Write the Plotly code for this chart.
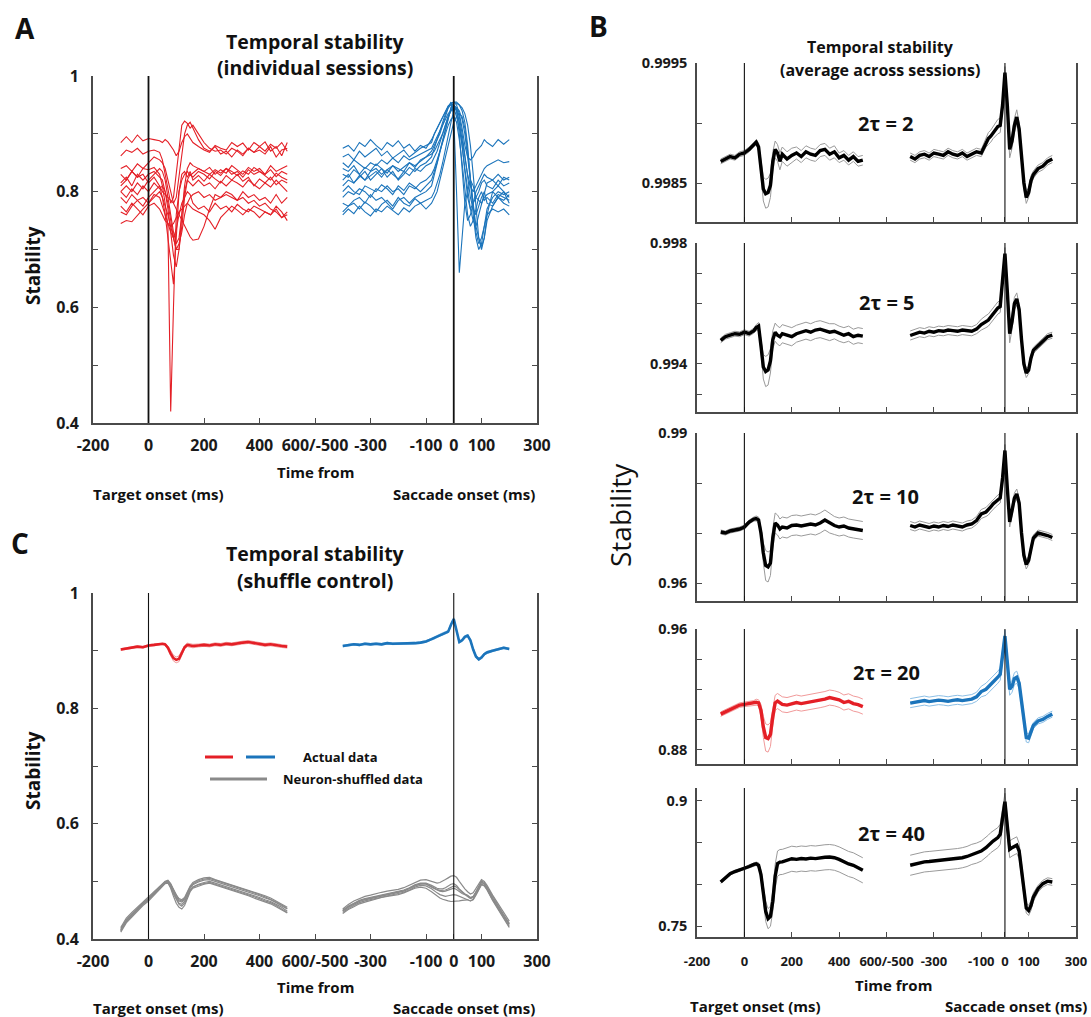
import plotly.graph_objects as go

W, H = 1091, 1017
FONT = "Open Sans"

# ---------------- time grids (ms) ----------------
T_TGT = [-100, -80, -60, -40, -20, 0, 20, 40,
         50, 60, 70, 80, 90, 100, 110, 120, 130, 140, 150, 160,
         180, 200, 220, 240, 260, 280, 300, 320, 340, 360, 380, 400, 420, 440, 460, 480, 500]
T_SAC = [-400, -380, -360, -340, -320, -300, -280, -260, -240, -220, -200, -180, -160, -140, -120, -100, -80,
         -70, -60, -50, -40, -30, -20, -10, 0, 10, 20, 30, 40, 50, 60, 70, 80, 90, 100, 110, 120,
         140, 160, 180, 200]
SAC_OFFSET = 1100  # saccade-aligned 0 sits at 1100 on the broken axis (600 == -500)

X_TICKVALS = [-200, 0, 200, 400, 600, 800, 1000, 1100, 1200, 1400]
X_TICKTEXT = ["-200", "0", "200", "400", "600/-500", "-300", "-100", "0", "100", "300"]

# ---------------- Panel A: individual sessions ----------------
A_RED = [
    [0.885, 0.895, 0.885, 0.898, 0.888, 0.892, 0.890, 0.888,
     0.885, 0.890, 0.886, 0.880, 0.872, 0.862, 0.870, 0.885, 0.895, 0.900, 0.892, 0.885,
     0.878, 0.872, 0.868, 0.880, 0.875, 0.872, 0.885, 0.878, 0.884, 0.872, 0.885, 0.878, 0.886, 0.870, 0.878, 0.862, 0.885],
    [0.862, 0.872, 0.868, 0.875, 0.865, 0.870, 0.872, 0.868,
     0.855, 0.830, 0.800, 0.780, 0.790, 0.830, 0.880, 0.915, 0.922, 0.918, 0.910, 0.915,
     0.900, 0.885, 0.875, 0.870, 0.872, 0.865, 0.875, 0.870, 0.862, 0.875, 0.868, 0.872, 0.865, 0.878, 0.860, 0.872, 0.875],
    [0.840, 0.845, 0.835, 0.848, 0.840, 0.838, 0.842, 0.830,
     0.810, 0.780, 0.740, 0.420, 0.600, 0.760, 0.800, 0.820, 0.830, 0.835, 0.828, 0.832,
     0.840, 0.835, 0.830, 0.838, 0.832, 0.840, 0.835, 0.828, 0.836, 0.830, 0.842, 0.835, 0.830, 0.838, 0.826, 0.835, 0.830],
    [0.830, 0.820, 0.835, 0.825, 0.830, 0.815, 0.825, 0.810,
     0.790, 0.760, 0.720, 0.680, 0.640, 0.720, 0.800, 0.830, 0.835, 0.825, 0.835, 0.820,
     0.828, 0.818, 0.830, 0.822, 0.815, 0.828, 0.820, 0.830, 0.818, 0.825, 0.810, 0.822, 0.815, 0.825, 0.812, 0.820, 0.815],
    [0.815, 0.825, 0.810, 0.830, 0.820, 0.830, 0.835, 0.825,
     0.820, 0.800, 0.770, 0.730, 0.690, 0.670, 0.700, 0.760, 0.810, 0.840, 0.850, 0.845,
     0.840, 0.835, 0.842, 0.830, 0.838, 0.832, 0.845, 0.838, 0.830, 0.842, 0.835, 0.840, 0.830, 0.845, 0.835, 0.840, 0.845],
    [0.800, 0.790, 0.805, 0.795, 0.810, 0.800, 0.815, 0.805,
     0.810, 0.800, 0.780, 0.750, 0.720, 0.700, 0.700, 0.740, 0.790, 0.820, 0.815, 0.810,
     0.820, 0.810, 0.815, 0.805, 0.818, 0.810, 0.820, 0.815, 0.808, 0.820, 0.812, 0.805, 0.815, 0.808, 0.820, 0.810, 0.800],
    [0.790, 0.780, 0.795, 0.785, 0.775, 0.790, 0.800, 0.810,
     0.800, 0.795, 0.790, 0.785, 0.780, 0.770, 0.760, 0.750, 0.740, 0.730, 0.722, 0.716,
     0.718, 0.740, 0.770, 0.795, 0.790, 0.800, 0.795, 0.785, 0.800, 0.790, 0.795, 0.785, 0.790, 0.780, 0.795, 0.780, 0.790],
    [0.775, 0.765, 0.780, 0.770, 0.760, 0.775, 0.780, 0.770,
     0.760, 0.750, 0.745, 0.740, 0.745, 0.755, 0.765, 0.770, 0.775, 0.780, 0.775, 0.770,
     0.765, 0.760, 0.750, 0.735, 0.755, 0.765, 0.775, 0.768, 0.760, 0.770, 0.765, 0.755, 0.765, 0.760, 0.770, 0.755, 0.765],
    [0.745, 0.750, 0.748, 0.760, 0.770, 0.780, 0.790, 0.800,
     0.790, 0.775, 0.760, 0.740, 0.720, 0.700, 0.710, 0.730, 0.760, 0.780, 0.790, 0.795,
     0.800, 0.790, 0.795, 0.785, 0.790, 0.795, 0.790, 0.785, 0.790, 0.780, 0.785, 0.775, 0.780, 0.770, 0.765, 0.755, 0.760],
    [0.810, 0.820, 0.835, 0.825, 0.840, 0.850, 0.860, 0.855,
     0.850, 0.840, 0.820, 0.800, 0.780, 0.790, 0.830, 0.870, 0.900, 0.915, 0.920, 0.910,
     0.890, 0.875, 0.870, 0.878, 0.865, 0.870, 0.860, 0.872, 0.865, 0.875, 0.868, 0.878, 0.870, 0.882, 0.875, 0.885, 0.870],
    [0.800, 0.810, 0.800, 0.815, 0.805, 0.820, 0.830, 0.840,
     0.835, 0.820, 0.790, 0.760, 0.730, 0.710, 0.720, 0.760, 0.800, 0.820, 0.830, 0.825,
     0.835, 0.830, 0.822, 0.835, 0.828, 0.840, 0.830, 0.835, 0.825, 0.838, 0.830, 0.835, 0.828, 0.820, 0.832, 0.825, 0.820],
    [0.765, 0.760, 0.775, 0.785, 0.790, 0.780, 0.795, 0.790,
     0.775, 0.760, 0.745, 0.730, 0.720, 0.735, 0.760, 0.780, 0.790, 0.800, 0.795, 0.780,
     0.770, 0.775, 0.765, 0.780, 0.770, 0.775, 0.765, 0.778, 0.770, 0.765, 0.775, 0.770, 0.765, 0.760, 0.775, 0.765, 0.750],
]

A_BLUE = [
    [0.875, 0.880, 0.870, 0.885, 0.878, 0.890, 0.880, 0.872, 0.885, 0.878, 0.888, 0.875, 0.882, 0.870, 0.880, 0.875, 0.890,
     0.900, 0.910, 0.920, 0.930, 0.940, 0.948, 0.953, 0.955, 0.950, 0.935, 0.910, 0.880, 0.860, 0.855, 0.860, 0.870, 0.875, 0.880, 0.890, 0.885,
     0.878, 0.890, 0.882, 0.890],
    [0.860, 0.865, 0.855, 0.870, 0.860, 0.868, 0.875, 0.862, 0.870, 0.858, 0.865, 0.872, 0.860, 0.868, 0.875, 0.880, 0.885,
     0.900, 0.910, 0.920, 0.930, 0.940, 0.948, 0.952, 0.955, 0.953, 0.950, 0.945, 0.935, 0.915, 0.880, 0.830, 0.770, 0.720, 0.700, 0.720, 0.760,
     0.800, 0.810, 0.800, 0.790],
    [0.840, 0.835, 0.845, 0.830, 0.842, 0.836, 0.848, 0.840, 0.832, 0.845, 0.840, 0.835, 0.850, 0.842, 0.855, 0.860, 0.870,
     0.880, 0.890, 0.900, 0.915, 0.930, 0.945, 0.955, 0.930, 0.800, 0.660, 0.720, 0.780, 0.800, 0.820, 0.810, 0.790, 0.800, 0.815, 0.820, 0.810,
     0.805, 0.820, 0.810, 0.815],
    [0.820, 0.830, 0.815, 0.825, 0.835, 0.820, 0.830, 0.840, 0.825, 0.835, 0.820, 0.830, 0.842, 0.835, 0.845, 0.850, 0.860,
     0.875, 0.890, 0.905, 0.920, 0.935, 0.945, 0.950, 0.945, 0.930, 0.910, 0.880, 0.840, 0.800, 0.770, 0.750, 0.740, 0.760, 0.780, 0.800, 0.815,
     0.820, 0.810, 0.825, 0.820],
    [0.850, 0.842, 0.855, 0.848, 0.840, 0.850, 0.845, 0.855, 0.848, 0.858, 0.850, 0.862, 0.855, 0.860, 0.865, 0.870, 0.875,
     0.885, 0.895, 0.905, 0.915, 0.925, 0.935, 0.940, 0.945, 0.940, 0.920, 0.890, 0.860, 0.830, 0.810, 0.800, 0.810, 0.820, 0.830, 0.840, 0.845,
     0.850, 0.855, 0.850, 0.852],
    [0.760, 0.770, 0.762, 0.775, 0.765, 0.758, 0.770, 0.765, 0.775, 0.768, 0.760, 0.772, 0.765, 0.775, 0.780, 0.770, 0.780,
     0.790, 0.800, 0.820, 0.840, 0.860, 0.880, 0.900, 0.920, 0.930, 0.935, 0.930, 0.910, 0.870, 0.820, 0.770, 0.730, 0.710, 0.720, 0.740, 0.760,
     0.770, 0.765, 0.770, 0.760],
    [0.780, 0.775, 0.785, 0.790, 0.780, 0.795, 0.785, 0.790, 0.780, 0.770, 0.785, 0.790, 0.780, 0.790, 0.795, 0.800, 0.810,
     0.830, 0.850, 0.870, 0.890, 0.910, 0.930, 0.945, 0.950, 0.940, 0.900, 0.840, 0.780, 0.750, 0.760, 0.780, 0.790, 0.785, 0.780, 0.790, 0.795,
     0.800, 0.790, 0.785, 0.795],
    [0.800, 0.810, 0.800, 0.795, 0.810, 0.805, 0.800, 0.812, 0.805, 0.795, 0.810, 0.802, 0.815, 0.808, 0.800, 0.810, 0.820,
     0.835, 0.850, 0.870, 0.890, 0.910, 0.930, 0.945, 0.955, 0.955, 0.950, 0.940, 0.920, 0.880, 0.820, 0.760, 0.720, 0.700, 0.710, 0.740, 0.770,
     0.790, 0.800, 0.795, 0.800],
    [0.830, 0.825, 0.838, 0.830, 0.820, 0.828, 0.835, 0.825, 0.838, 0.830, 0.822, 0.835, 0.828, 0.840, 0.835, 0.845, 0.850,
     0.860, 0.870, 0.885, 0.900, 0.915, 0.930, 0.940, 0.950, 0.945, 0.930, 0.900, 0.860, 0.820, 0.790, 0.770, 0.760, 0.775, 0.790, 0.800, 0.780,
     0.775, 0.790, 0.800, 0.780],
    [0.765, 0.775, 0.780, 0.770, 0.782, 0.775, 0.765, 0.778, 0.785, 0.775, 0.790, 0.780, 0.775, 0.788, 0.780, 0.785, 0.790,
     0.800, 0.815, 0.830, 0.850, 0.875, 0.900, 0.920, 0.940, 0.945, 0.940, 0.925, 0.900, 0.860, 0.810, 0.770, 0.740, 0.720, 0.705, 0.720, 0.750,
     0.775, 0.790, 0.780, 0.775],
    [0.810, 0.820, 0.815, 0.828, 0.820, 0.835, 0.840, 0.830, 0.838, 0.845, 0.835, 0.842, 0.850, 0.845, 0.852, 0.860, 0.865,
     0.870, 0.880, 0.890, 0.900, 0.915, 0.930, 0.940, 0.948, 0.942, 0.920, 0.880, 0.830, 0.790, 0.770, 0.780, 0.800, 0.810, 0.820, 0.830, 0.825,
     0.820, 0.830, 0.820, 0.825],
    [0.790, 0.800, 0.795, 0.805, 0.800, 0.790, 0.805, 0.800, 0.810, 0.800, 0.805, 0.795, 0.810, 0.805, 0.815, 0.820, 0.830,
     0.840, 0.855, 0.870, 0.885, 0.900, 0.915, 0.925, 0.930, 0.920, 0.890, 0.850, 0.800, 0.760, 0.740, 0.750, 0.770, 0.790, 0.800, 0.785, 0.790,
     0.780, 0.795, 0.790, 0.785],
]

# ---------------- Panel C: shuffle control ----------------
C_RED_MEAN = [0.902, 0.904, 0.905, 0.907, 0.906, 0.909, 0.910, 0.911,
              0.912, 0.911, 0.905, 0.895, 0.887, 0.884, 0.886, 0.896, 0.906, 0.910, 0.909, 0.908,
              0.909, 0.910, 0.909, 0.911, 0.910, 0.912, 0.911, 0.913, 0.914, 0.915, 0.913, 0.912, 0.910, 0.911, 0.909, 0.908, 0.907]
C_RED_SEM = [0.0015, 0.0015, 0.0015, 0.0015, 0.0015, 0.0015, 0.0015, 0.0015,
             0.0015, 0.002, 0.003, 0.004, 0.005, 0.005, 0.005, 0.004, 0.003, 0.003, 0.003, 0.003,
             0.0025, 0.0025, 0.0025, 0.0025, 0.0025, 0.0025, 0.0025, 0.0025, 0.0025, 0.0025, 0.0025, 0.0025, 0.0025, 0.0025, 0.0025, 0.0025, 0.0025]
C_BLUE_MEAN = [0.908, 0.910, 0.911, 0.910, 0.912, 0.911, 0.912, 0.911, 0.913, 0.912, 0.912, 0.913, 0.912, 0.913, 0.914, 0.916, 0.920,
               0.922, 0.925, 0.927, 0.929, 0.931, 0.933, 0.945, 0.955, 0.935, 0.915, 0.918, 0.924, 0.926, 0.918, 0.902, 0.890, 0.885, 0.888, 0.894, 0.897,
               0.900, 0.902, 0.905, 0.903]
C_BLUE_SEM = [0.0015, 0.0015, 0.0015, 0.0015, 0.0015, 0.0015, 0.0015, 0.0015, 0.0015, 0.0015, 0.0015, 0.0015, 0.0015, 0.0015, 0.0015, 0.0015, 0.0015,
              0.002, 0.002, 0.002, 0.002, 0.002, 0.002, 0.002, 0.002, 0.002, 0.002, 0.002, 0.002, 0.002, 0.002, 0.002, 0.002, 0.002, 0.002, 0.002, 0.002,
              0.0015, 0.0015, 0.0015, 0.0015]
C_GRAY_TGT = [
    [0.415, 0.430, 0.440, 0.450, 0.460, 0.468, 0.478, 0.488,
     0.493, 0.498, 0.499, 0.492, 0.480, 0.470, 0.462, 0.460, 0.465, 0.475, 0.485, 0.490,
     0.495, 0.498, 0.500, 0.497, 0.494, 0.490, 0.487, 0.485, 0.482, 0.478, 0.475, 0.472, 0.468, 0.465, 0.460, 0.455, 0.448],
    [0.420, 0.436, 0.446, 0.455, 0.463, 0.472, 0.482, 0.490,
     0.495, 0.500, 0.502, 0.496, 0.486, 0.476, 0.470, 0.468, 0.472, 0.482, 0.492, 0.498,
     0.503, 0.506, 0.507, 0.503, 0.500, 0.497, 0.494, 0.491, 0.488, 0.485, 0.482, 0.479, 0.475, 0.471, 0.466, 0.461, 0.455],
    [0.412, 0.428, 0.438, 0.448, 0.458, 0.466, 0.476, 0.486,
     0.491, 0.496, 0.497, 0.488, 0.474, 0.462, 0.455, 0.452, 0.458, 0.470, 0.482, 0.488,
     0.492, 0.495, 0.497, 0.494, 0.491, 0.487, 0.484, 0.481, 0.478, 0.475, 0.471, 0.468, 0.464, 0.461, 0.456, 0.451, 0.445],
    [0.418, 0.433, 0.443, 0.452, 0.462, 0.470, 0.480, 0.489,
     0.494, 0.499, 0.500, 0.494, 0.483, 0.473, 0.466, 0.464, 0.468, 0.478, 0.488, 0.494,
     0.499, 0.502, 0.503, 0.500, 0.497, 0.493, 0.490, 0.488, 0.485, 0.481, 0.478, 0.475, 0.471, 0.468, 0.463, 0.458, 0.452],
    [0.414, 0.431, 0.441, 0.451, 0.461, 0.469, 0.479, 0.487,
     0.492, 0.497, 0.498, 0.490, 0.478, 0.468, 0.460, 0.457, 0.462, 0.473, 0.484, 0.490,
     0.494, 0.496, 0.498, 0.495, 0.492, 0.488, 0.485, 0.483, 0.480, 0.477, 0.474, 0.470, 0.466, 0.463, 0.458, 0.452, 0.446],
    [0.416, 0.432, 0.442, 0.452, 0.462, 0.470, 0.479, 0.488,
     0.494, 0.499, 0.501, 0.495, 0.485, 0.475, 0.468, 0.466, 0.470, 0.480, 0.490, 0.496,
     0.501, 0.504, 0.505, 0.502, 0.499, 0.495, 0.492, 0.489, 0.486, 0.483, 0.480, 0.477, 0.473, 0.469, 0.464, 0.459, 0.453],
]
C_GRAY_SAC = [
    [0.448, 0.455, 0.460, 0.465, 0.468, 0.470, 0.473, 0.475, 0.477, 0.478, 0.480, 0.483, 0.487, 0.492, 0.495, 0.495, 0.490,
     0.487, 0.485, 0.483, 0.482, 0.483, 0.485, 0.487, 0.488, 0.486, 0.482, 0.479, 0.477, 0.474, 0.470, 0.472, 0.480, 0.490, 0.498, 0.495, 0.488,
     0.470, 0.455, 0.440, 0.425],
    [0.452, 0.460, 0.466, 0.470, 0.474, 0.476, 0.479, 0.481, 0.483, 0.484, 0.486, 0.489, 0.493, 0.498, 0.502, 0.503, 0.500,
     0.498, 0.497, 0.498, 0.500, 0.503, 0.506, 0.509, 0.510, 0.507, 0.500, 0.493, 0.487, 0.482, 0.478, 0.480, 0.488, 0.497, 0.503, 0.500, 0.493,
     0.476, 0.461, 0.446, 0.431],
    [0.444, 0.451, 0.456, 0.461, 0.464, 0.467, 0.470, 0.472, 0.474, 0.475, 0.477, 0.480, 0.484, 0.488, 0.490, 0.488, 0.482,
     0.478, 0.474, 0.471, 0.469, 0.467, 0.466, 0.465, 0.465, 0.465, 0.466, 0.467, 0.468, 0.468, 0.466, 0.468, 0.476, 0.486, 0.494, 0.492, 0.485,
     0.467, 0.452, 0.437, 0.420],
    [0.450, 0.457, 0.462, 0.467, 0.470, 0.472, 0.475, 0.477, 0.479, 0.480, 0.482, 0.485, 0.489, 0.494, 0.497, 0.497, 0.493,
     0.490, 0.488, 0.487, 0.487, 0.489, 0.492, 0.495, 0.496, 0.493, 0.487, 0.482, 0.478, 0.475, 0.471, 0.473, 0.482, 0.493, 0.501, 0.498, 0.490,
     0.472, 0.457, 0.442, 0.427],
    [0.446, 0.453, 0.458, 0.463, 0.466, 0.468, 0.471, 0.473, 0.475, 0.476, 0.478, 0.481, 0.485, 0.490, 0.493, 0.492, 0.487,
     0.483, 0.480, 0.477, 0.475, 0.474, 0.475, 0.476, 0.477, 0.476, 0.474, 0.472, 0.471, 0.469, 0.466, 0.469, 0.477, 0.487, 0.495, 0.493, 0.486,
     0.468, 0.453, 0.438, 0.422],
    [0.449, 0.456, 0.461, 0.466, 0.469, 0.471, 0.474, 0.476, 0.478, 0.479, 0.481, 0.484, 0.488, 0.493, 0.496, 0.496, 0.491,
     0.488, 0.486, 0.484, 0.484, 0.485, 0.487, 0.490, 0.492, 0.490, 0.485, 0.481, 0.478, 0.476, 0.472, 0.474, 0.481, 0.491, 0.499, 0.496, 0.489,
     0.471, 0.456, 0.441, 0.426],
]

# ---------------- Panel B: averages across sessions, one per window 2τ ----------------
B_LABELS = ["2τ = 2", "2τ = 5", "2τ = 10", "2τ = 20", "2τ = 40"]
B_RED_MEAN = [
    [0.99868, 0.99870, 0.99872, 0.99871, 0.99874, 0.99875, 0.99878, 0.99882,
     0.99884, 0.99880, 0.99862, 0.99845, 0.99841, 0.99842, 0.99848, 0.99868, 0.99878, 0.99875, 0.99868, 0.99874,
     0.99870, 0.99873, 0.99875, 0.99872, 0.99876, 0.99874, 0.99873, 0.99877, 0.99878, 0.99874, 0.99876, 0.99871, 0.99873, 0.99869, 0.99872, 0.99868, 0.99869],
    [0.99478, 0.99490, 0.99495, 0.99500, 0.99498, 0.99505, 0.99500, 0.99510,
     0.99520, 0.99525, 0.99460, 0.99390, 0.99375, 0.99380, 0.99410, 0.99480, 0.99505, 0.99495, 0.99490, 0.99500,
     0.99495, 0.99490, 0.99500, 0.99505, 0.99510, 0.99505, 0.99512, 0.99515, 0.99510, 0.99505, 0.99508, 0.99500, 0.99495, 0.99500, 0.99490, 0.99495, 0.99492],
    [0.9702, 0.9700, 0.9704, 0.9706, 0.9708, 0.9712, 0.9722, 0.9728,
     0.9729, 0.9726, 0.9700, 0.9660, 0.9635, 0.9632, 0.9640, 0.9690, 0.9720, 0.9716, 0.9708, 0.9712,
     0.9710, 0.9715, 0.9716, 0.9714, 0.9716, 0.9718, 0.9716, 0.9720, 0.9726, 0.9720, 0.9715, 0.9712, 0.9714, 0.9710, 0.9708, 0.9706, 0.9705],
    [0.9035, 0.9050, 0.9065, 0.9080, 0.9095, 0.9100, 0.9105, 0.9110,
     0.9114, 0.9110, 0.9060, 0.8950, 0.8880, 0.8873, 0.8900, 0.9020, 0.9110, 0.9122, 0.9110, 0.9100,
     0.9095, 0.9105, 0.9112, 0.9105, 0.9110, 0.9118, 0.9122, 0.9128, 0.9135, 0.9145, 0.9140, 0.9130, 0.9112, 0.9120, 0.9105, 0.9098, 0.9085],
    [0.8029, 0.8080, 0.8130, 0.8155, 0.8175, 0.8189, 0.8215, 0.8240,
     0.8248, 0.8230, 0.8120, 0.7900, 0.7680, 0.7592, 0.7620, 0.7800, 0.8100, 0.8250, 0.8268, 0.8270,
     0.8285, 0.8308, 0.8300, 0.8310, 0.8305, 0.8315, 0.8310, 0.8320, 0.8325, 0.8328, 0.8320, 0.8300, 0.8270, 0.8245, 0.8229, 0.8200, 0.8169],
]
B_RED_SEM = [
    [0.00002, 0.00002, 0.00002, 0.00002, 0.00002, 0.00002, 0.00002, 0.00002,
     0.00002, 0.00003, 0.00006, 0.00010, 0.00012, 0.00012, 0.00010, 0.00008, 0.00007, 0.00007, 0.00007, 0.00006,
     0.00006, 0.00006, 0.00005, 0.00005, 0.00005, 0.00005, 0.00005, 0.00005, 0.00005, 0.00005, 0.00005, 0.00004, 0.00004, 0.00004, 0.00004, 0.00004, 0.00004],
    [0.00008, 0.00008, 0.00008, 0.00008, 0.00008, 0.00008, 0.00008, 0.00008,
     0.00010, 0.00012, 0.00020, 0.00040, 0.00050, 0.00050, 0.00040, 0.00030, 0.00030, 0.00030, 0.00030, 0.00030,
     0.00030, 0.00030, 0.00028, 0.00028, 0.00028, 0.00028, 0.00028, 0.00028, 0.00028, 0.00028, 0.00025, 0.00025, 0.00025, 0.00025, 0.00025, 0.00025, 0.00025],
    [0.0004, 0.0004, 0.0004, 0.0004, 0.0004, 0.0004, 0.0004, 0.0004,
     0.0005, 0.0006, 0.0010, 0.0020, 0.0030, 0.0030, 0.0025, 0.0020, 0.0020, 0.0020, 0.0020, 0.0020,
     0.0020, 0.0020, 0.0020, 0.0020, 0.0020, 0.0020, 0.0020, 0.0020, 0.0020, 0.0020, 0.0018, 0.0018, 0.0018, 0.0018, 0.0018, 0.0018, 0.0018],
    [0.0015, 0.0015, 0.0015, 0.0015, 0.0015, 0.0015, 0.0015, 0.0015,
     0.0020, 0.0020, 0.0040, 0.0070, 0.0090, 0.0090, 0.0080, 0.0060, 0.0050, 0.0050, 0.0050, 0.0050,
     0.0050, 0.0050, 0.0050, 0.0050, 0.0050, 0.0050, 0.0050, 0.0050, 0.0050, 0.0050, 0.0050, 0.0050, 0.0050, 0.0050, 0.0050, 0.0050, 0.0050],
    [0.0015, 0.0015, 0.0015, 0.0015, 0.0015, 0.0015, 0.0020, 0.0020,
     0.0020, 0.0030, 0.0050, 0.0080, 0.0120, 0.0120, 0.0120, 0.0120, 0.0140, 0.0150, 0.0150, 0.0150,
     0.0150, 0.0150, 0.0150, 0.0150, 0.0150, 0.0150, 0.0150, 0.0150, 0.0150, 0.0150, 0.0150, 0.0150, 0.0150, 0.0150, 0.0150, 0.0150, 0.0150],
]
B_BLUE_MEAN = [
    [0.99872, 0.99870, 0.99873, 0.99874, 0.99872, 0.99875, 0.99874, 0.99873, 0.99876, 0.99874, 0.99873, 0.99875, 0.99872, 0.99874, 0.99876, 0.99875, 0.99884,
     0.99887, 0.99889, 0.99892, 0.99895, 0.99897, 0.99898, 0.99915, 0.99942, 0.99915, 0.99878, 0.99885, 0.99898, 0.99905, 0.99895, 0.99870, 0.99850, 0.99838, 0.99842, 0.99852, 0.99857,
     0.99862, 0.99864, 0.99868, 0.99870],
    [0.99494, 0.99500, 0.99505, 0.99502, 0.99508, 0.99505, 0.99510, 0.99508, 0.99512, 0.99510, 0.99508, 0.99512, 0.99510, 0.99508, 0.99515, 0.99530, 0.99540,
     0.99545, 0.99555, 0.99565, 0.99575, 0.99585, 0.99590, 0.99680, 0.99765, 0.99640, 0.99500, 0.99540, 0.99600, 0.99615, 0.99580, 0.99480, 0.99400, 0.99370, 0.99380, 0.99420, 0.99445,
     0.99460, 0.99475, 0.99490, 0.99495],
    [0.9715, 0.9712, 0.9716, 0.9713, 0.9711, 0.9714, 0.9712, 0.9715, 0.9713, 0.9716, 0.9714, 0.9712, 0.9716, 0.9718, 0.9725, 0.9738, 0.9742,
     0.9746, 0.9752, 0.9758, 0.9762, 0.9766, 0.9770, 0.9810, 0.9865, 0.9790, 0.9722, 0.9745, 0.9770, 0.9778, 0.9760, 0.9700, 0.9655, 0.9637, 0.9645, 0.9668, 0.9690,
     0.9700, 0.9698, 0.9695, 0.9691],
    [0.9108, 0.9115, 0.9120, 0.9125, 0.9118, 0.9122, 0.9128, 0.9125, 0.9120, 0.9126, 0.9130, 0.9125, 0.9128, 0.9135, 0.9150, 0.9185, 0.9200,
     0.9215, 0.9230, 0.9245, 0.9265, 0.9280, 0.9300, 0.9420, 0.9553, 0.9380, 0.9200, 0.9220, 0.9270, 0.9280, 0.9240, 0.9120, 0.8980, 0.8880, 0.8875, 0.8920, 0.8960,
     0.8990, 0.9000, 0.9020, 0.9035],
    [0.8230, 0.8245, 0.8260, 0.8270, 0.8275, 0.8280, 0.8290, 0.8295, 0.8300, 0.8305, 0.8310, 0.8320, 0.8335, 0.8360, 0.8375, 0.8400, 0.8440,
     0.8470, 0.8500, 0.8520, 0.8540, 0.8560, 0.8600, 0.8780, 0.8990, 0.8700, 0.8420, 0.8440, 0.8460, 0.8470, 0.8400, 0.8150, 0.7900, 0.7720, 0.7690, 0.7750, 0.7850,
     0.7950, 0.8010, 0.8040, 0.8030],
]
B_BLUE_SEM = [
    [0.00003, 0.00003, 0.00003, 0.00003, 0.00003, 0.00003, 0.00003, 0.00003, 0.00003, 0.00003, 0.00003, 0.00003, 0.00003, 0.00003, 0.00003, 0.00003, 0.00004,
     0.00005, 0.00005, 0.00005, 0.00006, 0.00006, 0.00006, 0.00005, 0.00005, 0.00006, 0.00007, 0.00006, 0.00006, 0.00006, 0.00005, 0.00005, 0.00005, 0.00005, 0.00004, 0.00004, 0.00003,
     0.00003, 0.00003, 0.00003, 0.00003],
    [0.00015, 0.00015, 0.00015, 0.00015, 0.00015, 0.00015, 0.00015, 0.00015, 0.00015, 0.00015, 0.00015, 0.00015, 0.00015, 0.00015, 0.00015, 0.00018, 0.00020,
     0.00020, 0.00020, 0.00020, 0.00020, 0.00020, 0.00020, 0.00020, 0.00020, 0.00025, 0.00030, 0.00025, 0.00020, 0.00020, 0.00015, 0.00015, 0.00015, 0.00015, 0.00012, 0.00010, 0.00010,
     0.00010, 0.00010, 0.00010, 0.00010],
    [0.0008, 0.0008, 0.0008, 0.0008, 0.0008, 0.0008, 0.0008, 0.0008, 0.0008, 0.0008, 0.0008, 0.0008, 0.0008, 0.0008, 0.0008, 0.0009, 0.0009,
     0.0010, 0.0010, 0.0010, 0.0010, 0.0010, 0.0010, 0.0011, 0.0012, 0.0011, 0.0010, 0.0010, 0.0010, 0.0010, 0.0009, 0.0009, 0.0009, 0.0009, 0.0008, 0.0007, 0.0006,
     0.0006, 0.0006, 0.0006, 0.0006],
    [0.0030, 0.0030, 0.0030, 0.0030, 0.0030, 0.0030, 0.0030, 0.0030, 0.0030, 0.0030, 0.0030, 0.0030, 0.0030, 0.0030, 0.0030, 0.0035, 0.0040,
     0.0040, 0.0040, 0.0040, 0.0040, 0.0040, 0.0040, 0.0040, 0.0040, 0.0040, 0.0040, 0.0040, 0.0040, 0.0040, 0.0035, 0.0030, 0.0030, 0.0030, 0.0030, 0.0025, 0.0020,
     0.0020, 0.0020, 0.0020, 0.0020],
    [0.0120, 0.0120, 0.0120, 0.0120, 0.0120, 0.0120, 0.0120, 0.0120, 0.0120, 0.0120, 0.0120, 0.0120, 0.0120, 0.0120, 0.0120, 0.0120, 0.0120,
     0.0120, 0.0120, 0.0120, 0.0120, 0.0120, 0.0120, 0.0110, 0.0100, 0.0100, 0.0100, 0.0100, 0.0100, 0.0100, 0.0090, 0.0080, 0.0070, 0.0060, 0.0060, 0.0060, 0.0050,
     0.0040, 0.0040, 0.0040, 0.0040],
]

# ---------------- colours ----------------
RED = "#e41f26"
BLUE = "#1b74bb"
RED_LIGHT = "#f19a9a"
BLUE_LIGHT = "#8cbfe6"
GRAY = "#8a8a8a"
AXIS = "#4a4a4a"

X_SAC = [t + SAC_OFFSET for t in T_SAC]


def dom_x(p0, p1):
    return [p0 / W, p1 / W]


def dom_y(top, bottom):
    return [1 - bottom / H, 1 - top / H]


fig = go.Figure()


def add_line(ax, xs, ys, color, width):
    fig.add_trace(go.Scatter(x=xs, y=ys, mode="lines", line=dict(color=color, width=width),
                             xaxis="x" + ax, yaxis="y" + ax, showlegend=False, hoverinfo="skip"))


def add_band(ax, xs, mean, sem, color, bcolor, width, bwidth):
    up = [m + s for m, s in zip(mean, sem)]
    lo = [m - s for m, s in zip(mean, sem)]
    add_line(ax, xs, up, bcolor, bwidth)
    add_line(ax, xs, lo, bcolor, bwidth)
    add_line(ax, xs, mean, color, width)


# Panel A (axis "")
for ys in A_RED:
    add_line("", T_TGT, ys, RED, 1.1)
for ys in A_BLUE:
    add_line("", X_SAC, ys, BLUE, 1.1)

# Panel C (axis "2")
for ys in C_GRAY_TGT:
    add_line("2", T_TGT, ys, GRAY, 1.2)
for ys in C_GRAY_SAC:
    add_line("2", X_SAC, ys, GRAY, 1.2)
add_band("2", T_TGT, C_RED_MEAN, C_RED_SEM, RED, RED_LIGHT, 2.6, 1)
add_band("2", X_SAC, C_BLUE_MEAN, C_BLUE_SEM, BLUE, BLUE_LIGHT, 2.6, 1)

# Panel B (axes "3".."7")
for i in range(5):
    ax = str(i + 3)
    if i == 3:
        add_band(ax, T_TGT, B_RED_MEAN[i], B_RED_SEM[i], RED, RED_LIGHT, 3.4, 1)
        add_band(ax, X_SAC, B_BLUE_MEAN[i], B_BLUE_SEM[i], BLUE, BLUE_LIGHT, 3.4, 1)
    else:
        add_band(ax, T_TGT, B_RED_MEAN[i], B_RED_SEM[i], "black", "#9a9a9a", 3.4, 1)
        add_band(ax, X_SAC, B_BLUE_MEAN[i], B_BLUE_SEM[i], "black", "#9a9a9a", 3.4, 1)

# ---------------- axes ----------------
layout = dict(width=W, height=H, margin=dict(l=0, r=0, t=0, b=0, autoexpand=False),
              paper_bgcolor="white", plot_bgcolor="white", showlegend=False)

TICKFONT_AC = dict(family=FONT, size=16, color="#1a1a1a", weight="bold")
TICKFONT_BY = dict(family=FONT, size=14.5, color="#1a1a1a", weight="bold")
TICKFONT_BX = dict(family=FONT, size=13, color="#1a1a1a", weight="bold")


def xaxis_spec(domain, anchor, show_labels, font, standoff):
    return dict(domain=domain, anchor=anchor, range=[-200, 1400], tickmode="array",
                tickvals=X_TICKVALS, ticktext=X_TICKTEXT, showticklabels=show_labels,
                ticks="inside", ticklen=5, tickwidth=1.2, tickcolor=AXIS, automargin=False,
                showline=True, linecolor=AXIS, linewidth=1.6, mirror=False,
                showgrid=False, zeroline=False, tickfont=font, ticklabelstandoff=standoff)


def yaxis_spec(domain, anchor, rng, tickvals, ticktext, font, standoff):
    return dict(domain=domain, anchor=anchor, range=rng, tickmode="array",
                tickvals=tickvals, ticktext=ticktext, automargin=False,
                ticks="inside", ticklen=5, tickwidth=1.2, tickcolor=AXIS,
                showline=True, linecolor=AXIS, linewidth=1.6, mirror="ticks",
                showgrid=False, zeroline=False, tickfont=font, ticklabelstandoff=standoff)


AC_TICKVALS = [0.4, 0.5, 0.6, 0.7, 0.8, 0.9, 1.0]
AC_TICKTEXT = ["0.4", "", "0.6", "", "0.8", "", "1"]

layout["xaxis"] = xaxis_spec(dom_x(93, 537), "y", True, TICKFONT_AC, 7)
layout["yaxis"] = yaxis_spec(dom_y(76, 423), "x", [0.4, 1.0], AC_TICKVALS, AC_TICKTEXT, TICKFONT_AC, 9)
layout["xaxis2"] = xaxis_spec(dom_x(93, 537), "y2", True, TICKFONT_AC, 7)
layout["yaxis2"] = yaxis_spec(dom_y(593, 939), "x2", [0.4, 1.0], AC_TICKVALS, AC_TICKTEXT, TICKFONT_AC, 9)

B_PIX = [(63, 222), (243, 412), (433, 601), (629, 764), (788, 937)]
B_RANGES = [[0.998175, 0.9995], [0.99241, 0.998], [0.9564, 0.99], [0.8704, 0.96], [0.7373, 0.9153]]
B_TICKVALS = [[0.9985, 0.999, 0.9995],
              [0.993, 0.994, 0.995, 0.996, 0.997, 0.998],
              [0.96, 0.97, 0.98, 0.99],
              [0.88, 0.90, 0.92, 0.94, 0.96],
              [0.75, 0.80, 0.85, 0.90]]
B_TICKTEXT = [["0.9985", "", "0.9995"],
              ["", "0.994", "", "", "", "0.998"],
              ["0.96", "", "", "0.99"],
              ["0.88", "", "", "", "0.96"],
              ["0.75", "", "", "0.9"]]
for i in range(5):
    n = str(i + 3)
    layout["xaxis" + n] = xaxis_spec(dom_x(697, 1076), "y" + n, i == 4, TICKFONT_BX, 12)
    layout["yaxis" + n] = yaxis_spec(dom_y(*B_PIX[i]), "x" + n, B_RANGES[i],
                                     B_TICKVALS[i], B_TICKTEXT[i], TICKFONT_BY, 5)

# event lines at target onset and saccade onset
shapes = []
for ax, w in [("", 1.8), ("2", 1.1), ("3", 1.1), ("4", 1.1), ("5", 1.1), ("6", 1.1), ("7", 1.1)]:
    for xv in [0, SAC_OFFSET]:
        shapes.append(dict(type="line", xref="x" + ax, yref=("y" + ax + " domain"),
                           x0=xv, x1=xv, y0=0, y1=1, line=dict(color="#111111", width=w), layer="above"))


# legend swatches for panel C
def seg(x0, x1, y, color, width):
    return dict(type="line", xref="paper", yref="paper", x0=x0 / W, x1=x1 / W,
                y0=1 - y / H, y1=1 - y / H, line=dict(color=color, width=width))


shapes += [seg(205, 233, 757, RED, 3), seg(246, 275, 757, BLUE, 3), seg(210, 267, 779, GRAY, 3)]
layout["shapes"] = shapes

# ---------------- text ----------------
annotations = []


def text(s, px, py, size, weight="bold", angle=0, xanchor="center", color="#111111"):
    annotations.append(dict(text=s, x=px / W, y=1 - py / H, xref="paper", yref="paper",
                            xanchor=xanchor, yanchor="middle", showarrow=False, textangle=angle,
                            font=dict(family=FONT, size=size, color=color, weight=weight)))


# Panel A
text("A", 25, 28, 28)
text("Temporal stability", 315, 41, 19.5)
text("(individual sessions)", 315, 67, 19.5)
text("Stability", 33, 266, 19, angle=-90)
text("Time from", 315, 472, 15)
text("Target onset (ms)", 158, 494, 15)
text("Saccade onset (ms)", 464, 494, 15)

# Panel C
text("C", 20, 543, 28)
text("Temporal stability", 315, 553, 19.5)
text("(shuffle control)", 315, 580, 19.5)
text("Stability", 33, 771, 19, angle=-90)
text("Time from", 315, 987, 15)
text("Target onset (ms)", 158, 1008, 15)
text("Saccade onset (ms)", 464, 1008, 15)
text("Actual data", 340, 757, 13)
text("Neuron-shuffled data", 353, 779, 13)

# Panel B
text("B", 598, 26, 28)
text("Temporal stability", 880, 47, 16)
text("(average across sessions)", 880, 70, 16)
B_LABEL_POS = [(885, 123), (886, 302), (885, 496), (886, 672), (891, 833)]
for lab, (px, py) in zip(B_LABELS, B_LABEL_POS):
    text(lab, px, py, 20)
text("Stability", 620, 515, 28, weight="normal", angle=-90)
text("Time from", 893, 985, 15)
text("Target onset (ms)", 755, 1006, 15)
text("Saccade onset (ms)", 1016, 1006, 15)

layout["annotations"] = annotations
fig.update_layout(**layout)
fig.write_html("out.html", config={"displayModeBar": False},
               post_script="document.body.style.margin='0';document.body.style.overflow='hidden';")
